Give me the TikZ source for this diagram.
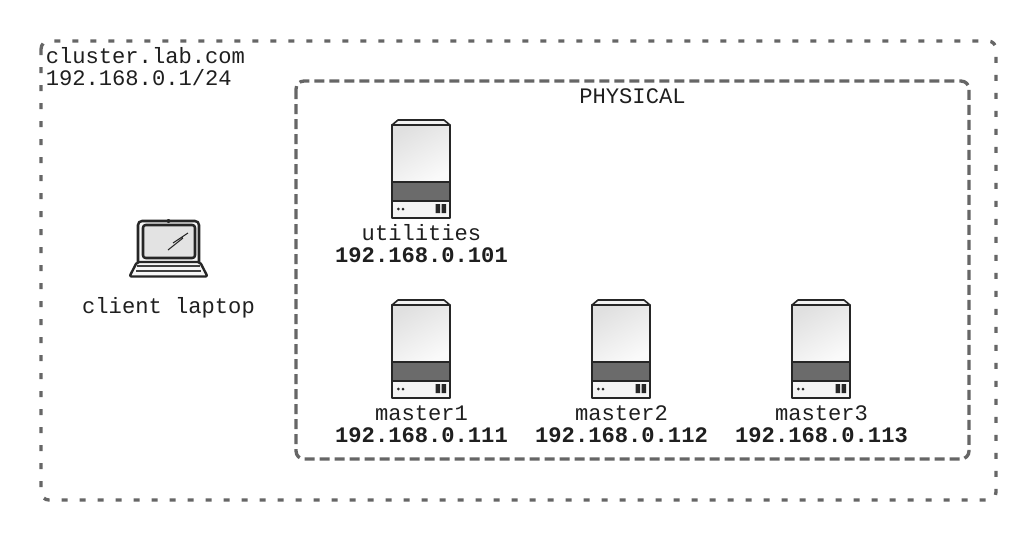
\documentclass[tikz,border=0pt]{standalone}
\usepackage{fontspec}
\setmainfont{Liberation Mono}
\usetikzlibrary{shadings}
\tikzset{
  x=0.75pt,y=-0.75pt,
  zone/.style={draw=black!60,line width=2.5pt,rounded corners=6pt},
  outerzone/.style={zone,dash pattern=on 4.5pt off 9pt},
  innerzone/.style={zone,dash pattern=on 7.5pt off 3.75pt},
  lbl/.style={inner sep=0pt,font=\fontsize{16.6pt}{18pt}\selectfont,text=black!88},
  ip/.style={lbl,font=\fontsize{16.6pt}{18pt}\selectfont\bfseries},
  lin/.style={draw=black!85,line width=1.8pt,line join=round},
  server/.pic={
    \path[lin,line width=1.2pt,fill=black!5] (-29,-46) -- (-23,-51) -- (23,-51) -- (29,-46) -- cycle;
    \path[lin,top color=black!12,bottom color=black!2,shading angle=30] (-29,-46) rectangle (29,11);
    \path[lin,fill=black!58] (-29,11) rectangle (29,30);
    \path[lin,fill=black!4] (-29,30) rectangle (29,47);
    \fill[black!85] (-22.7,38) circle (1.5) (-18,38) circle (1.5);
    \fill[black!85] (14.7,33) rectangle (19.2,42) (20.5,33) rectangle (25,42);
  }
}
\begin{document}
\begin{tikzpicture}
\useasboundingbox[fill=white] (0,0) rectangle (1036,540);
\path[outerzone] (41,41) rectangle (996,500);
\path[innerzone] (296,81) rectangle (969,459);

\node[lbl,anchor=base west] (cluster) at (45.5,63) {cluster.lab.com};
\node[lbl,anchor=base west] (subnet) at (45.5,85) {192.168.0.1/24};
\node[lbl,anchor=base] (physical) at (632.5,103) {PHYSICAL};

% laptop
\path[lin,fill=black!3,line width=1.9pt,rounded corners=3pt] (138,262) -- (138,221) -- (199,221) -- (199,262);
\path[lin,fill=black!11,line width=1.9pt,rounded corners=2pt] (143,225) rectangle (195,258);
\fill[black!85] (168.5,221) circle (2);
\path[lin,fill=black!3,line width=1.8pt,rounded corners=1.5pt] (137,262) -- (200,262) -- (207.5,276.5) -- (129.5,276.5) -- cycle;
\draw[black!75,line width=1.2pt] (137,266) -- (200,266) (136,271) -- (201,271);
\draw[black!85,line width=.8pt] (173,243) -- (188,233) (168,250) -- (183,238);
\node[lbl,anchor=base] (client) at (168.5,313) {client laptop};

% servers
\pic at (421,171) {server};
\node[lbl,anchor=base] (utilities) at (421.5,240) {utilities};
\node[ip,anchor=base] (utilitiesip) at (421.5,262) {192.168.0.101};

\pic at (421,351) {server};
\node[lbl,anchor=base] (m1) at (421.5,420) {master1};
\node[ip,anchor=base] (m1ip) at (421.5,442) {192.168.0.111};

\pic at (621,351) {server};
\node[lbl,anchor=base] (m2) at (621.5,420) {master2};
\node[ip,anchor=base] (m2ip) at (621.5,442) {192.168.0.112};

\pic at (821,351) {server};
\node[lbl,anchor=base] (m3) at (821.5,420) {master3};
\node[ip,anchor=base] (m3ip) at (821.5,442) {192.168.0.113};
\end{tikzpicture}
\end{document}
